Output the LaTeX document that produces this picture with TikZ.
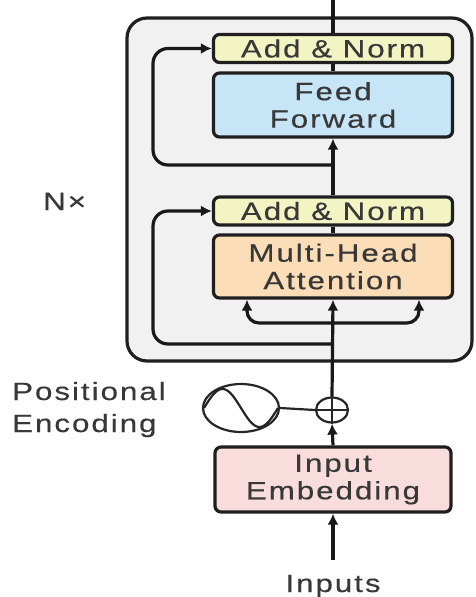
\documentclass[tikz,border=0pt]{standalone}
\usepackage{fontspec}
\setmainfont{Liberation Sans}[FakeStretch=1.25,LetterSpace=8,FakeBold=0.4]
\usetikzlibrary{arrows.meta,shapes.geometric}
\definecolor{anc}{HTML}{F3F4C4}
\definecolor{ffc}{HTML}{C6E5F6}
\definecolor{mhac}{HTML}{FBDDB8}
\definecolor{embc}{HTML}{F9DCDC}
\definecolor{outerc}{HTML}{F1F1F1}
\definecolor{txt}{HTML}{383838}
\begin{document}
\begin{tikzpicture}[x=1pt,y=-1pt,
  box/.style={draw=black!88, line width=3.2pt, rounded corners=6pt, minimum width=239pt,
    align=center, text=txt, inner sep=0pt, font=\fontsize{25}{27.5}\selectfont},
  lbl/.style={text=txt, inner sep=0pt, font=\fontsize{25}{27.5}\selectfont},
  conn/.style={line width=3.2pt, draw=black!90},
  arr/.style={conn, -{Latex[length=11pt,width=11pt]}},
  thin/.style={line width=2.2pt, draw=black!85}]
\useasboundingbox (0,0) rectangle (475,597);
\draw[fill=outerc, line width=3.2pt, draw=black!88, rounded corners=20pt] (127,18) rectangle (472,361);
\node[box, fill=anc, minimum height=28pt] (an2) at (333,48.5) {Add \& Norm};
\node[box, fill=ffc, minimum height=64pt] (ff) at (333,105) {Feed\\Forward};
\node[box, fill=anc, minimum height=28pt] (an1) at (333,211) {Add \& Norm};
\node[box, fill=mhac, minimum height=63pt] (mha) at (333,266.5) {Multi-Head\\Attention};
\node[box, fill=embc, minimum height=65pt, minimum width=236pt] (emb) at (333,479.5) {Input\\Embedding};
\node[thin, ellipse, fill=white, minimum width=32pt, minimum height=25pt, inner sep=0pt] (plus) at (332,410) {};
\node[thin, ellipse, fill=white, minimum width=76pt, minimum height=48pt, inner sep=0pt] (sin) at (241,408) {};
\node[lbl, anchor=base] (inputs) at (333,592) {Inputs};
\node[lbl, anchor=base west] (pos1) at (12,400) {Positional};
\node[lbl, anchor=base west] (pos2) at (12,432) {Encoding};
\node[lbl, anchor=base west] (nx) at (43,210) {N×};
\coordinate (top) at (333,0);
\coordinate (inp) at (333,560);
\coordinate (fork) at (333,323);
\coordinate (r1) at (333,344);
\coordinate (r2) at (333,165);
% sine
\draw[thin] plot[domain=-1:1, samples=60] ({241+37*\x},{408-19*sin(180*(\x+1))});
% plus sign
\draw[thin] (plus.north) -- (plus.south);
\draw[thin] (plus.west) -- (plus.east);
% main flow
\draw[conn] (top) -- (an2.north);
\draw[conn] (an2.south) -- (ff.north);
\draw[arr] (an1.north) -- (ff.south);
\draw[conn] (an1.south) -- (mha.north);
\draw[arr] (plus.north) -- (mha.south);
\draw[arr] (emb.north) -- (plus.south);
\draw[arr] (inp) -- (emb.south);
\draw[thin] (sin.east) -- (plus.west);
% fork into attention
\draw[arr, rounded corners=12pt] (fork) -| ([xshift=-86pt]mha.south);
\draw[arr, rounded corners=12pt] (fork) -| ([xshift=86pt]mha.south);
% residuals
\draw[arr, rounded corners=15pt] (r1) -- (153,344) |- (an1.west);
\draw[arr, rounded corners=15pt] (r2) -- (153,165) |- (an2.west);
\end{tikzpicture}
\end{document}
